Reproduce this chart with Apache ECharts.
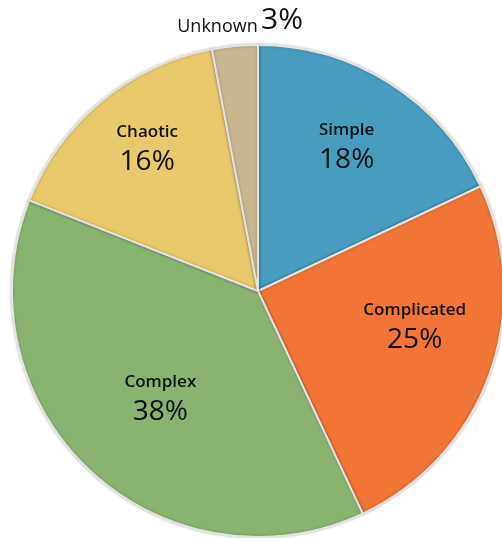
<!DOCTYPE html>
<html>
<head>
<meta charset="utf-8">
<script src="https://cdn.jsdelivr.net/npm/echarts@6/dist/echarts.min.js"></script>
<style>html,body{margin:0;padding:0;background:#fff}#c{width:502px;height:538px}</style>
</head>
<body>
<div id="c"></div>
<script>
// ---- data ----
const categories = ['Simple', 'Complicated', 'Complex', 'Chaotic', 'Unknown'];
const values = [18, 25, 38, 16, 3];

// ---- styling ----
const colors = ['#479CBF', '#F07536', '#8AB370', '#E8C96B', '#C8B68E'];
const CX = 258, CY = 291, R = 246;
// label radius factor and angle adjustment (deg) per slice
const labelRadius = [0.70, 0.65, 0.58, 0.745, 1.098];
const labelAngleAdj = [-1.4, -8.3, 0, 2.4, 1.6];
const labelDY = [3, 3, 3, 3, -4];
const FONT = 'Open Sans';

const total = values.reduce((a, b) => a + b, 0);
const midAngles = [];
values.reduce((cum, v) => { midAngles.push((cum + v / 2) / total * 360); return cum + v; }, 0);

const chart = echarts.init(document.getElementById('c'));
const data = categories.map((c, i) => {
  const d = { name: c, value: values[i], itemStyle: { color: colors[i] } };
  if (c === 'Unknown') {
    d.label = {
      position: 'outside',
      formatter: '{n|{b}} {v|{c}%}',
      rich: {
        n: { fontFamily: FONT, fontSize: 18, fontWeight: 400, color: '#111', verticalAlign: 'bottom', lineHeight: 36 },
        v: { fontFamily: FONT, fontSize: 30, fontWeight: 400, color: '#111', verticalAlign: 'bottom', lineHeight: 30 }
      }
    };
    d.labelLine = { show: false };
  }
  return d;
});

chart.setOption({
  animation: false,
  series: [{
    type: 'pie',
    center: [CX, CY],
    radius: [0, R],
    startAngle: 90,
    clockwise: true,
    data: data,
    itemStyle: {
      borderColor: '#e4e4e4',
      borderWidth: 2,
      shadowBlur: 3,
      shadowColor: 'rgba(0,0,0,0.25)'
    },
    label: {
      show: true,
      position: 'inside',
      formatter: '{n|{b}}\n{v|{c}%}',
      rich: {
        n: { fontFamily: FONT, fontSize: 17, fontWeight: 600, color: '#111', lineHeight: 28, align: 'center', verticalAlign: 'middle' },
        v: { fontFamily: FONT, fontSize: 28, fontWeight: 500, color: '#111', lineHeight: 32, align: 'center', verticalAlign: 'middle' }
      }
    },
    labelLayout: function (p) {
      const i = p.dataIndex;
      const rad = (midAngles[i] + labelAngleAdj[i]) * Math.PI / 180;
      const rr = labelRadius[i] * R;
      return {
        x: CX + rr * Math.sin(rad),
        y: CY - rr * Math.cos(rad) + labelDY[i],
        align: 'center',
        verticalAlign: 'middle'
      };
    },
    emphasis: { disabled: true }
  }]
});
</script>
</body>
</html>
